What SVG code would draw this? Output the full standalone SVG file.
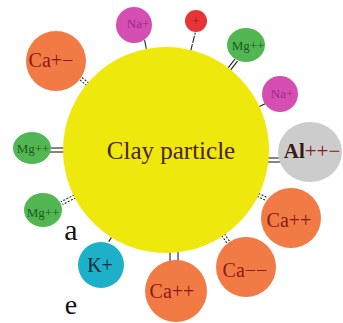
<svg xmlns="http://www.w3.org/2000/svg" width="343" height="323" viewBox="0 0 343 323" font-family="'Liberation Serif','Times New Roman',Times,serif">
<style>
text{font-family:'Liberation Serif','Times New Roman',Times,serif;text-anchor:middle}
.ca{fill:#f27a45}
.mg{fill:#52b752}
.na{fill:#d54fb2}
.tca{fill:#8a1a14;font-size:20px}
.tmg{fill:#1f5a22;font-size:13px}
.tna{fill:#9a2a80;font-size:13px}
.ln{stroke:#222;stroke-width:1.1;fill:none}
.dl{stroke:#222;stroke-width:1.1;fill:none;stroke-dasharray:2 1.5}
</style>
<rect width="343" height="323" fill="#ffffff"/>
<g id="connectors">
  <g transform="translate(166,150) rotate(-140)"><line class="dl" x1="102" y1="-1.6" x2="113" y2="-1.6"/><line class="dl" x1="102" y1="1.6" x2="113" y2="1.6"/></g>
  <g transform="translate(166,150) rotate(-101)"><line class="ln" x1="103" y1="0" x2="112" y2="0"/></g>
  <g transform="translate(166,150) rotate(-76)"><line class="ln" x1="102" y1="0" x2="121" y2="0" stroke-dasharray="7 1.5"/></g>
  <g transform="translate(166,150) rotate(-52)"><line class="ln" x1="103" y1="-1.6" x2="114" y2="-1.6"/><line class="ln" x1="103" y1="1.6" x2="114" y2="1.6"/></g>
  <g transform="translate(166,150) rotate(-25)"><line class="ln" x1="103" y1="0" x2="110" y2="0"/></g>
  <line class="ln" x1="267" y1="158" x2="280" y2="158"/><line class="ln" x1="267" y1="162" x2="280" y2="162"/>
  <g transform="translate(166,150) rotate(26)"><line class="dl" x1="102" y1="-1.6" x2="112" y2="-1.6"/><line class="dl" x1="102" y1="1.6" x2="112" y2="1.6"/></g>
  <g transform="translate(166,150) rotate(56)"><line class="dl" x1="102" y1="-1.6" x2="111" y2="-1.6"/><line class="dl" x1="102" y1="1.6" x2="111" y2="1.6"/></g>
  <line class="ln" x1="170" y1="250" x2="170" y2="261"/><line class="ln" x1="178" y1="250" x2="178" y2="261"/>
  <g transform="translate(166,150) rotate(122)"><line class="ln" x1="103" y1="0" x2="108" y2="0"/></g>
  <g transform="translate(166,150) rotate(153)"><line class="dl" x1="102" y1="-1.6" x2="117" y2="-1.6"/><line class="dl" x1="102" y1="1.6" x2="117" y2="1.6"/></g>
  <line class="ln" x1="50" y1="148" x2="64" y2="148"/><line class="ln" x1="50" y1="152" x2="64" y2="152"/>
</g>
<g id="clay">
  <circle cx="166" cy="150" r="103" fill="#efe80c"/>
  <text x="171" y="159" font-size="25" fill="#4a2410">Clay particle</text>
</g>
<g id="ca1"><circle class="ca" cx="56" cy="61" r="30"/><text class="tca" x="51" y="67">Ca+−</text></g>
<g id="na1"><circle class="na" cx="134" cy="25" r="18"/><text class="tna" x="138" y="28">Na+</text></g>
<g id="h1"><circle cx="196" cy="21" r="11" fill="#e83434"/><text x="196" y="25" font-size="12" fill="#8a1a14">+</text></g>
<g id="mg1"><ellipse class="mg" cx="246" cy="45" rx="19" ry="17"/><text class="tmg" x="248" y="50">Mg++</text></g>
<g id="na2"><circle class="na" cx="280" cy="94" r="18"/><text class="tna" x="282" y="98">Na+</text></g>
<g id="al"><ellipse cx="310" cy="152" rx="32" ry="30" fill="#cccccc"/><text x="312" y="158" font-size="21" font-weight="bold"><tspan fill="#3a1a10">Al</tspan><tspan fill="#8a1a14" font-weight="normal">++−</tspan></text></g>
<g id="ca2"><circle class="ca" cx="291" cy="218" r="30"/><text class="tca" x="289" y="227">Ca++</text></g>
<g id="ca3"><circle class="ca" cx="246" cy="267" r="30"/><text class="tca" x="245" y="277">Ca−−</text></g>
<g id="ca4"><circle class="ca" cx="176" cy="291" r="31"/><text class="tca" x="172" y="298">Ca++</text></g>
<g id="k"><circle cx="101" cy="265" r="23" fill="#1cb0c9"/><text x="100" y="272" font-size="20" fill="#152a3a">K+</text></g>
<g id="mg2"><ellipse class="mg" cx="43" cy="210" rx="19" ry="17"/><text class="tmg" x="43" y="217">Mg++</text></g>
<g id="mg3"><ellipse class="mg" cx="32" cy="148" rx="19" ry="16"/><text class="tmg" x="33" y="153">Mg++</text></g>
<text x="71" y="240" font-size="30" fill="#111">a</text>
<text x="71" y="314" font-size="28" fill="#111">e</text>
</svg>
